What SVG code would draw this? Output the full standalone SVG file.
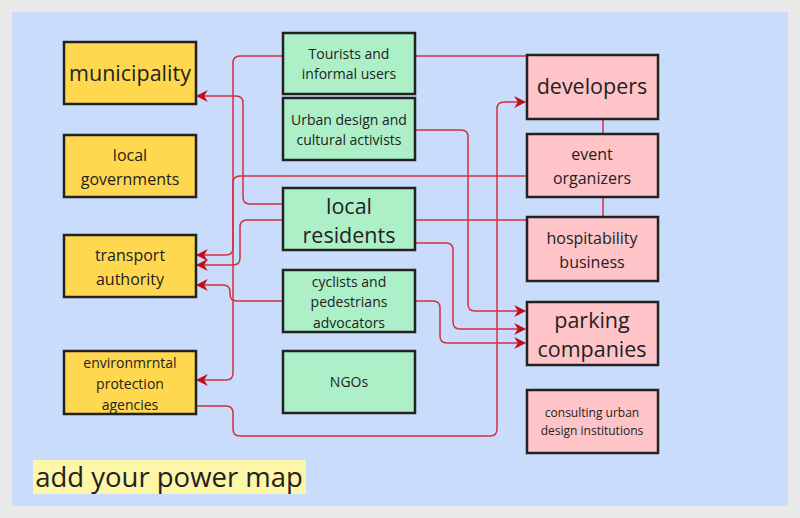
<svg xmlns="http://www.w3.org/2000/svg" width="800" height="518" viewBox="0 0 800 518">
<defs>
<style>
text{font-family:"Open Sans","Noto Sans",sans-serif;fill:#222;text-anchor:middle}
.y{fill:#ffd84f;stroke:#222;stroke-width:2.5}
.g{fill:#adf0c8;stroke:#222;stroke-width:2.5}
.p{fill:#ffc4c8;stroke:#222;stroke-width:2.5}
.c{fill:none;stroke:#d2313c;stroke-width:1.5;stroke-linejoin:round}
</style>
<marker id="a" viewBox="0 0 10 10" refX="9" refY="5" markerWidth="12" markerHeight="12" markerUnits="userSpaceOnUse" orient="auto"><path d="M0,0L10,5L0,10L3,5z" fill="#c0101c"/></marker>
</defs>
<rect width="800" height="518" fill="#e9e9e9"/>
<rect x="12" y="12" width="776" height="494" fill="#c9dcfb"/>
<g id="connectors">
<path class="c" d="M283,56H240Q233,56 233,63V373Q233,380 226,380H197" marker-end="url(#a)"/>
<path class="c" d="M527,176H240Q233,176 233,183V248Q233,255 226,255H197" marker-end="url(#a)"/>
<path class="c" d="M283,204H250Q243,204 243,197V103Q243,96 236,96H197" marker-end="url(#a)"/>
<path class="c" d="M283,220H247Q240,220 240,227V258Q240,265 233,265H197" marker-end="url(#a)"/>
<path class="c" d="M283,301H237Q230,301 230,294V292Q230,285 223,285H197" marker-end="url(#a)"/>
<path class="c" d="M415,56H527"/>
<path class="c" d="M415,130H461Q468,130 468,137V304Q468,311 475,311H525" marker-end="url(#a)"/>
<path class="c" d="M415,220H527"/>
<path class="c" d="M415,243H446Q453,243 453,250V322Q453,329 460,329H525" marker-end="url(#a)"/>
<path class="c" d="M415,301H433Q440,301 440,308V336Q440,343 447,343H525" marker-end="url(#a)"/>
<path class="c" d="M195,406H226Q233,406 233,413V429Q233,436 240,436H490Q497,436 497,429V109Q497,102 504,102H525" marker-end="url(#a)"/>
<path class="c" d="M603,119V134M603,197V217"/>
</g>
<g id="municipality"><rect class="y" x="64" y="42" width="132" height="62"/><text x="130" y="81" font-size="21.5">municipality</text></g>
<g id="local-governments"><rect class="y" x="64" y="135" width="132" height="62"/><text x="130" y="161" font-size="16">local</text><text x="130" y="185" font-size="16">governments</text></g>
<g id="transport-authority"><rect class="y" x="64" y="235" width="132" height="62"/><text x="130" y="261" font-size="16">transport</text><text x="130" y="285" font-size="16">authority</text></g>
<g id="environmental-agencies"><rect class="y" x="64" y="351" width="132" height="63"/><text x="130" y="368" font-size="14">environmrntal</text><text x="130" y="389" font-size="14">protection</text><text x="130" y="410" font-size="14">agencies</text></g>
<g id="tourists"><rect class="g" x="283" y="33" width="132" height="61"/><text x="349" y="59" font-size="14">Tourists and</text><text x="349" y="79" font-size="14">informal users</text></g>
<g id="urban-design"><rect class="g" x="283" y="98" width="132" height="62"/><text x="349" y="125" font-size="14">Urban design and</text><text x="349" y="145" font-size="14">cultural activists</text></g>
<g id="local-residents"><rect class="g" x="283" y="188" width="132" height="62"/><text x="349" y="214" font-size="21.5">local</text><text x="349" y="243" font-size="21.5">residents</text></g>
<g id="cyclists"><rect class="g" x="283" y="270" width="132" height="62"/><text x="349" y="287" font-size="14">cyclists and</text><text x="349" y="307" font-size="14">pedestrians</text><text x="349" y="328" font-size="14">advocators</text></g>
<g id="ngos"><rect class="g" x="283" y="351" width="132" height="62"/><text x="349" y="387" font-size="14">NGOs</text></g>
<g id="developers"><rect class="p" x="527" y="55" width="131" height="64"/><text x="592" y="94" font-size="21.5">developers</text></g>
<g id="event-organizers"><rect class="p" x="527" y="134" width="131" height="63"/><text x="592" y="160" font-size="16">event</text><text x="592" y="184" font-size="16">organizers</text></g>
<g id="hospitability"><rect class="p" x="527" y="217" width="131" height="64"/><text x="592" y="244" font-size="16">hospitability</text><text x="592" y="268" font-size="16">business</text></g>
<g id="parking"><rect class="p" x="527" y="302" width="131" height="63"/><text x="592" y="328" font-size="21.5">parking</text><text x="592" y="357" font-size="21.5">companies</text></g>
<g id="consulting"><rect class="p" x="527" y="390" width="131" height="63"/><text x="592" y="417" font-size="12">consulting urban</text><text x="592" y="435" font-size="12">design institutions</text></g>
<g id="title"><rect x="33" y="460" width="273" height="34" fill="#fdf5a8"/><text x="169" y="487" font-size="27.5">add your power map</text></g>
</svg>
